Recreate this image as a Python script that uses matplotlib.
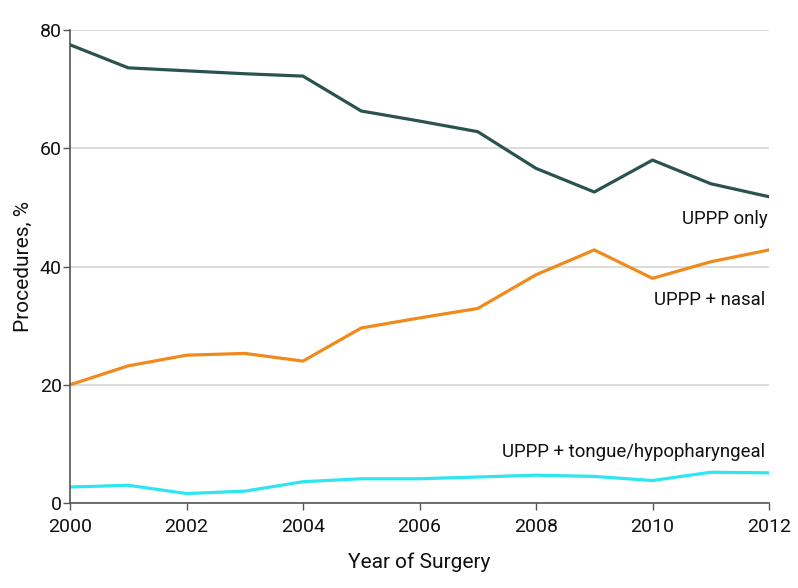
import matplotlib
matplotlib.use("Agg")
import matplotlib.pyplot as plt

years = list(range(2000, 2013))
uppp_only = [77.5, 73.6, 73.1, 72.6, 72.2, 66.3, 64.6, 62.8, 56.6, 52.6, 58.0, 54.0, 51.8]
uppp_nasal = [20.0, 23.2, 25.0, 25.3, 24.0, 29.6, 31.3, 32.9, 38.6, 42.8, 38.0, 40.8, 42.8]
uppp_tongue = [2.7, 3.0, 1.6, 2.0, 3.6, 4.1, 4.1, 4.4, 4.7, 4.5, 3.8, 5.2, 5.1]
series_labels = ["UPPP only", "UPPP + nasal", "UPPP + tongue/hypopharyngeal"]
x_ticks = [2000, 2002, 2004, 2006, 2008, 2010, 2012]
y_ticks = [0, 20, 40, 60, 80]

plt.rcParams['font.family'] = ['Roboto', 'DejaVu Sans']

fig = plt.figure(figsize=(7.98, 5.88), dpi=100)
ax = fig.add_axes([70/798, 1-503/588, (769-70)/798, (503-30)/588])

ax.plot(years, uppp_only, color="#2a5350", lw=2.3)
ax.plot(years, uppp_nasal, color="#f08a1d", lw=2.3)
ax.plot(years, uppp_tongue, color="#2de6f0", lw=2.3)

ax.set_xlim(2000, 2012)
ax.set_ylim(0, 80)
ax.set_xticks(x_ticks)
ax.set_yticks(y_ticks)
ax.grid(axis="y", color="#d6d6d6", lw=1.2)
ax.set_axisbelow(True)
for s in ["top", "right"]:
    ax.spines[s].set_visible(False)
for s in ["left", "bottom"]:
    ax.spines[s].set_color("#555555")
    ax.spines[s].set_linewidth(1.2)
ax.tick_params(axis="both", direction="out", length=5, width=1.0, color="#555555",
               labelsize=14, labelcolor="#111111")
ax.tick_params(axis="y", pad=1)
ax.tick_params(axis="x", pad=6)

ax.set_xlabel("Year of Surgery", fontsize=15, color="#111111", labelpad=12)
ax.set_ylabel("Procedures, %", fontsize=15, color="#111111", labelpad=5)

ax.text(2011.97, 48.1, series_labels[0], ha="right", va="center", fontsize=13.4, color="#111111")
ax.text(2011.93, 34.4, series_labels[1], ha="right", va="center", fontsize=13.4, color="#111111")
ax.text(2011.93, 8.6, series_labels[2], ha="right", va="center", fontsize=13.4, color="#111111")

fig.savefig("out.png", dpi=100, facecolor="white")
